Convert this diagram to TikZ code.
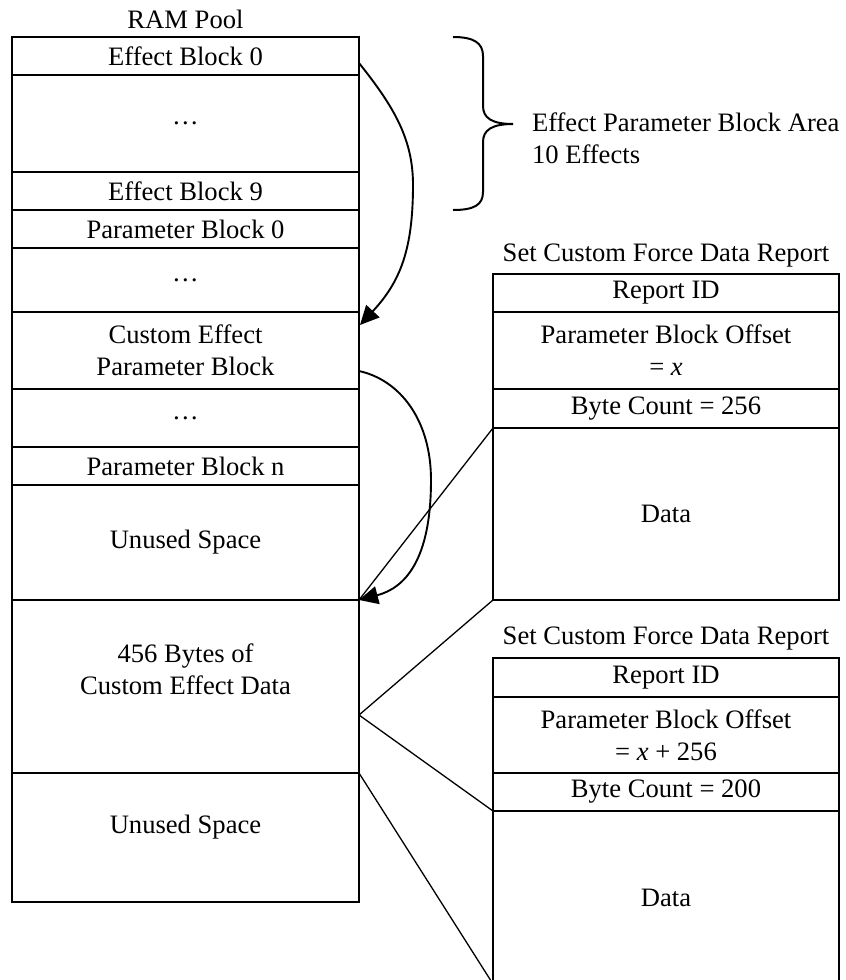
\documentclass[tikz,border=0pt]{standalone}
\usepackage{fontspec}
\setmainfont{Liberation Serif}
\usetikzlibrary{arrows.meta}
\begin{document}
\begin{tikzpicture}[x=0.5pt,y=-0.5pt,
  every node/.style={font=\fontsize{13.3}{16}\selectfont, inner sep=0pt, outer sep=0pt},
  cell/.style={draw, line width=1pt, align=center},
  lcell/.style={cell, minimum width=173.5pt},
  rcell/.style={cell, minimum width=173pt},
  conn/.style={line width=0.65pt},
  curv/.style={line width=0.95pt, -{Triangle[length=9.5pt,width=9pt]}},
  bracestyle/.style={line width=1pt}]
\useasboundingbox (0,0) rectangle (846,980);

% ---- RAM pool column ----
\node (ram) at (185.5,19) {RAM Pool};
\node[lcell, minimum height=19pt]   (r0)  at (185.5,56)    {Effect Block 0};
\node[lcell, minimum height=48.5pt] (r1)  at (185.5,123.5) {…};
\node[lcell, minimum height=19pt]   (r2)  at (185.5,191)   {Effect Block 9};
\node[lcell, minimum height=19pt]   (r3)  at (185.5,229)   {Parameter Block 0};
\node[lcell, minimum height=32pt]   (r4)  at (185.5,280)   {…};
\node[lcell, minimum height=38.5pt] (r5)  at (185.5,350.5) {Custom Effect\\Parameter Block};
\node[lcell, minimum height=29pt]   (r6)  at (185.5,418)   {…};
\node[lcell, minimum height=19pt]   (r7)  at (185.5,466)   {Parameter Block n};
\node[lcell, minimum height=57.5pt] (r8)  at (185.5,542.5) {Unused Space};
\node[lcell, minimum height=86.5pt] (r9)  at (185.5,686.5) {};
\node[align=center] (r9t) at (185.5,669) {456 Bytes of\\Custom Effect Data};
\node[lcell, minimum height=64.5pt] (r10) at (185.5,837.5) {};
\node (r10t) at (185.5,827) {Unused Space};

% ---- first report ----
\node (t1) at (666,256) {Set Custom Force Data Report};
\node[rcell, minimum height=19pt]   (b1a) at (666,293)   {Report ID};
\node[rcell, minimum height=38.5pt] (b1b) at (666,350.5) {Parameter Block Offset\\= \textit{x}};
\node[rcell, minimum height=19.5pt] (b1c) at (666,408.5) {Byte Count = 256};
\node[rcell, minimum height=86pt]   (b1d) at (666,514)   {Data};

% ---- second report ----
\node (t2) at (666,639) {Set Custom Force Data Report};
\node[rcell, minimum height=19.5pt] (b2a) at (666,677.5) {Report ID};
\node[rcell, minimum height=38pt]   (b2b) at (666,735)   {Parameter Block Offset\\= \textit{x} + 256};
\node[rcell, minimum height=19pt]   (b2c) at (666,792)   {Byte Count = 200};
\node[rcell, minimum height=86.5pt] (b2d) at (666,897.5) {Data};

% ---- brace ----
\coordinate (btip) at (513,124);
\draw[bracestyle] (453,37) .. controls (474,37) and (483,43) .. (483,56) -- (483,106)
   .. controls (483,118) and (492,124) .. (btip);
\draw[bracestyle] (btip) .. controls (492,124) and (483,130) .. (483,142) -- (483,192)
   .. controls (483,205) and (474,210) .. (453,210);
\node[anchor=west, align=left] (brt) at (532,138.5) {Effect Parameter Block Area\\10 Effects};

% ---- curved arrows ----
\coordinate (c1s) at (359,63);
\coordinate (c1e) at (360,325);
\draw[curv] (c1s) .. controls (395,108) and (413,140) .. (413,185)
   .. controls (413,250) and (400,282) .. (c1e);
\coordinate (c2s) at (359,371);
\draw[curv] (c2s) .. controls (400,380) and (431,420) .. (431,480)
   .. controls (431,560) and (405,588) .. (r9.north east);

% ---- straight connectors ----
\coordinate (c3) at (359,715);
\draw[conn] (b1c.south west) -- (r9.north east);
\draw[conn] (b1d.south west) -- (c3);
\draw[conn] (c3) -- (b2c.south west);
\draw[conn] (r9.south east) -- (b2d.south west);
\end{tikzpicture}
\end{document}
